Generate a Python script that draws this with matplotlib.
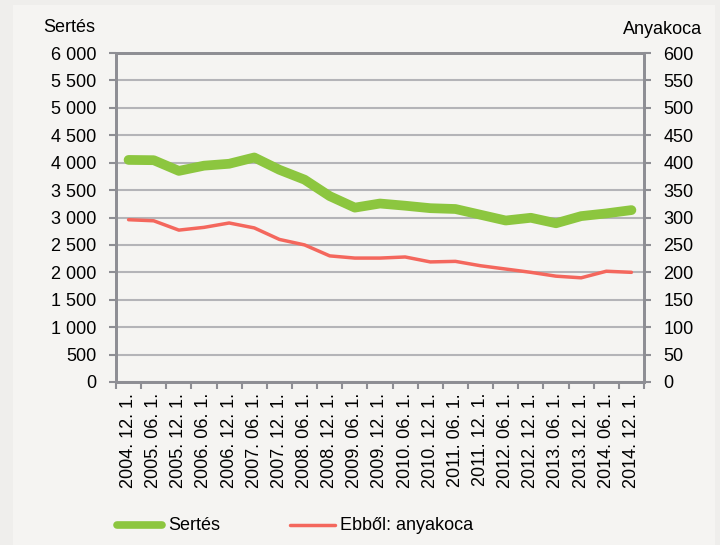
import matplotlib.pyplot as plt
from matplotlib.ticker import FuncFormatter, FixedLocator
from matplotlib.patches import Rectangle
from matplotlib.lines import Line2D

plt.rcParams['font.family'] = ['Liberation Sans Narrow', 'Liberation Sans', 'DejaVu Sans']

# időpontok
dates = ['2004. 12. 1.', '2005. 06. 1.', '2005. 12. 1.', '2006. 06. 1.', '2006. 12. 1.',
         '2007. 06. 1.', '2007. 12. 1.', '2008. 06. 1.', '2008. 12. 1.', '2009. 06. 1.',
         '2009. 12. 1.', '2010. 06. 1.', '2010. 12. 1.', '2011. 06. 1.', '2011. 12. 1.',
         '2012. 06. 1.', '2012. 12. 1.', '2013. 06. 1.', '2013. 12. 1.', '2014. 06. 1.',
         '2014. 12. 1.']

# ezer darab
sertes = [4050, 4045, 3850, 3945, 3980, 4095, 3870, 3690, 3390, 3180,
          3255, 3215, 3170, 3155, 3050, 2945, 2995, 2895, 3025, 3075, 3135]
anyakoca = [296, 294, 277, 282, 290, 281, 260, 250, 230, 226,
            226, 228, 219, 220, 212, 206, 200, 193, 190, 202, 200]

bg = '#f5f4f2'
axcol = '#8e8e94'
green = '#8cc63f'
red = '#f4675d'

fig = plt.figure(figsize=(7.2, 5.45), dpi=100, facecolor='#efeeec')
fig.patches.append(Rectangle((13 / 720, 0), 702 / 720, 540 / 545, transform=fig.transFigure,
                             facecolor=bg, edgecolor='none', zorder=-1))

ax = fig.add_axes([116 / 720, 1 - 382 / 545, 528 / 720, 329 / 545])
ax.set_facecolor(bg)
x = list(range(len(dates)))
ax.plot(x, sertes, color=green, lw=7, solid_capstyle='round', zorder=3)
ax.set_xlim(-0.5, len(dates) - 0.5)
ax.set_ylim(0, 6000)
ax.set_yticks(range(0, 6001, 500))
ax.yaxis.set_major_formatter(FuncFormatter(lambda v, p: f'{int(v):,}'.replace(',', ' ')))
ax.grid(axis='y', color='#b4b4b8', lw=1.5)
ax.set_axisbelow(True)

ax.set_xticks(x)
ax.set_xticklabels(dates, rotation=90, fontsize=13)
ax.tick_params(axis='x', length=0, pad=8)
ax.xaxis.set_minor_locator(FixedLocator([i - 0.5 for i in range(len(dates) + 1)]))
ax.tick_params(axis='x', which='minor', length=5, width=1.5, color=axcol)
ax.tick_params(axis='y', length=5, width=1.5, color=axcol, labelsize=13, pad=9)

for s in ax.spines.values():
    s.set_color(axcol)
    s.set_linewidth(2)

ax2 = ax.twinx()
ax2.plot(x, anyakoca, color=red, lw=2.5, solid_capstyle='round', zorder=3)
ax2.set_ylim(0, 600)
ax2.set_yticks(range(0, 601, 50))
ax2.tick_params(axis='y', length=5, width=1.5, color=axcol, labelsize=13, pad=9)
for s in ax2.spines.values():
    s.set_color(axcol)
    s.set_linewidth(2)

fig.text(43 / 720, 1 - 27 / 545, 'Sertés', fontsize=13, va='center', ha='left')
fig.text(702 / 720, 1 - 30 / 545, 'Anyakoca', fontsize=13, va='center', ha='right')

# jelmagyarázat
fig.lines.append(Line2D([117 / 720, 162 / 720], [1 - 525 / 545] * 2, transform=fig.transFigure,
                        color=green, lw=5.5, solid_capstyle='round'))
fig.text(168 / 720, 1 - 525 / 545, 'Sertés', fontsize=13, va='center')
fig.lines.append(Line2D([290 / 720, 335 / 720], [1 - 525 / 545] * 2, transform=fig.transFigure,
                        color=red, lw=2.5, solid_capstyle='round'))
fig.text(340 / 720, 1 - 525 / 545, 'Ebből: anyakoca', fontsize=13, va='center')

fig.savefig('out.png', dpi=100, facecolor=fig.get_facecolor())
